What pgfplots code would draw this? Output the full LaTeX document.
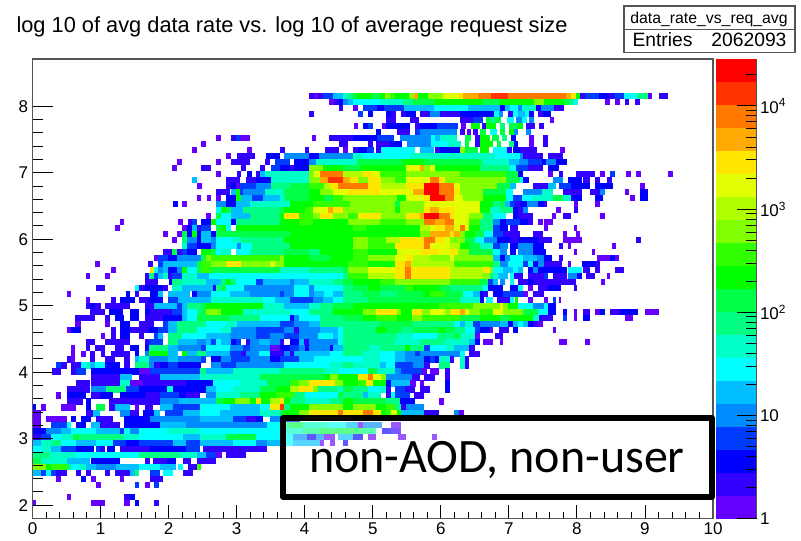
\documentclass[border=0pt]{standalone}
\usepackage{pgfplots}
\usepackage{pgfplotstable}
\usepackage{fontspec}
\setmainfont{Liberation Sans}
\newfontfamily\boxfont{Carlito}
\pgfplotsset{compat=1.18}
\pgfplotsset{colormap={root}{rgb255=(100,0,255) rgb255=(50,0,255) rgb255=(0,0,255) rgb255=(0,60,255) rgb255=(0,140,255) rgb255=(0,190,255) rgb255=(0,255,255) rgb255=(0,255,200) rgb255=(0,255,130) rgb255=(0,255,70) rgb255=(0,255,0) rgb255=(50,255,0) rgb255=(130,255,0) rgb255=(175,255,0) rgb255=(225,255,0) rgb255=(255,230,0) rgb255=(255,170,0) rgb255=(255,120,0) rgb255=(255,50,0) rgb255=(255,0,0)}}
\definecolor{frame}{RGB}{85,85,85}
\pgfplotstableread{
a b y c
4.06 4.13 8.15 1
4.13 4.20 8.15 0
4.20 4.27 8.15 1
4.27 4.41 8.15 3
4.41 4.56 8.15 5
4.56 4.63 8.15 7
4.63 4.70 8.15 8
4.70 4.77 8.15 9
4.77 4.99 8.15 10
4.99 5.11 8.15 9
5.11 5.18 8.15 10
5.18 5.25 8.15 12
5.25 5.32 8.15 11
5.32 5.53 8.15 10
5.53 5.60 8.15 12
5.60 5.67 8.15 16
5.67 5.81 8.15 10
5.81 6.03 8.15 12
6.03 6.25 8.15 14
6.25 6.32 8.15 15
6.32 6.54 8.15 16
6.54 6.74 8.15 17
6.74 6.99 8.15 18
6.99 7.84 8.15 17
7.84 7.91 8.15 16
7.91 7.98 8.15 15
7.98 8.05 8.15 10
8.05 8.12 8.15 1
8.12 8.32 8.15 3
8.32 8.47 8.15 2
8.47 8.54 8.15 1
8.54 8.69 8.15 3
8.69 8.89 8.15 6
8.89 9.04 8.15 8
9.04 9.11 8.15 0
9.21 9.34 8.15 1
4.36 4.43 8.06 0
4.43 4.50 8.06 1
4.50 4.57 8.06 2
4.57 4.64 8.06 4
4.64 4.71 8.06 5
4.71 5.10 8.06 6
5.10 5.45 8.06 7
5.45 5.59 8.06 8
5.59 5.90 8.06 9
5.90 6.60 8.06 10
6.60 6.87 8.06 9
6.87 7.37 8.06 10
7.37 7.51 8.06 12
7.51 7.81 8.06 10
7.81 7.88 8.06 9
7.88 7.95 8.06 8
7.95 8.02 8.06 6
8.41 8.48 8.06 0
8.56 8.63 8.06 0
8.70 8.77 8.06 1
8.85 8.92 8.06 1
4.50 4.57 7.97 1
4.71 4.78 7.97 0
4.86 5.06 7.97 3
5.06 5.16 7.97 2
5.16 5.46 7.97 3
5.46 5.90 7.97 5
5.90 6.40 7.97 6
6.40 6.87 7.97 5
6.87 6.94 7.97 2
6.94 7.01 7.97 5
7.01 7.13 7.97 6
7.13 7.20 7.97 4
7.20 7.40 7.97 7
7.40 7.47 7.97 2
7.47 7.67 7.97 4
7.67 7.81 7.97 1
4.06 4.13 7.88 1
4.78 4.85 7.88 3
4.93 5.00 7.88 2
5.20 5.27 7.88 2
5.27 5.34 7.88 1
5.42 5.49 7.88 1
5.49 5.63 7.88 2
5.70 5.84 7.88 1
5.84 5.99 7.88 4
5.99 6.28 7.88 1
6.28 6.78 7.88 2
6.78 6.85 7.88 6
6.85 6.92 7.88 4
6.99 7.06 7.88 1
7.06 7.13 7.88 6
7.13 7.23 7.88 5
7.23 7.30 7.88 6
7.30 7.37 7.88 2
7.43 7.50 7.88 1
7.50 7.62 7.88 2
5.20 5.34 7.79 1
5.54 5.68 7.79 1
6.28 6.48 7.79 1
6.48 6.62 7.79 3
6.67 6.74 7.79 9
6.74 6.81 7.79 8
6.81 6.88 7.79 9
6.97 7.07 7.79 6
7.10 7.20 7.79 4
7.20 7.27 7.79 6
7.30 7.37 7.79 4
7.60 7.67 7.79 0
4.72 4.79 7.70 0
4.86 4.93 7.70 2
4.93 5.00 7.70 3
5.13 5.20 7.70 0
5.20 5.55 7.70 2
5.62 5.69 7.70 1
5.70 5.95 7.70 2
5.95 6.25 7.70 3
6.30 6.37 7.70 0
6.44 6.58 7.70 10
6.60 6.67 7.70 1
6.67 6.81 7.70 10
6.87 6.94 7.70 8
7.00 7.14 7.70 9
7.14 7.21 7.70 10
7.25 7.39 7.70 1
7.45 7.52 7.70 1
5.05 5.12 7.61 2
5.35 5.55 7.61 1
5.62 5.69 7.61 3
5.69 6.24 7.61 4
6.28 6.35 7.61 1
6.38 6.45 7.61 0
6.47 6.54 7.61 1
6.57 6.67 7.61 9
6.72 6.82 7.61 6
6.87 6.94 7.61 9
7.00 7.07 7.61 10
7.07 7.14 7.61 4
7.25 7.32 7.61 4
2.70 2.77 7.52 0
2.92 2.99 7.52 1
2.99 3.05 7.52 3
3.05 3.20 7.52 0
4.10 4.17 7.52 0
4.36 4.71 7.52 1
4.71 5.06 7.52 2
5.06 5.31 7.52 3
5.40 5.85 7.52 4
5.85 5.92 7.52 6
5.92 5.99 7.52 5
5.99 6.24 7.52 7
6.35 6.45 7.52 9
6.50 6.57 7.52 1
6.57 6.72 7.52 10
6.75 6.85 7.52 9
6.90 6.97 7.52 8
7.03 7.10 7.52 2
7.30 7.37 7.52 0
7.50 7.57 7.52 1
2.48 2.55 7.43 0
4.50 4.64 7.43 1
4.93 5.00 7.43 1
5.05 5.25 7.43 1
5.25 5.43 7.43 2
5.50 5.85 7.43 4
5.85 6.10 7.43 6
6.10 6.30 7.43 7
6.35 6.42 7.43 9
6.50 6.57 7.43 1
6.57 6.77 7.43 10
6.82 6.89 7.43 9
7.00 7.07 7.43 8
7.07 7.14 7.43 2
7.30 7.37 7.43 0
7.50 7.57 7.43 1
2.35 2.42 7.34 0
3.15 3.22 7.34 0
3.64 3.71 7.34 1
4.00 4.07 7.34 1
4.30 4.50 7.34 1
4.57 4.64 7.34 0
4.71 4.78 7.34 1
4.78 4.92 7.34 2
4.92 5.02 7.34 3
5.05 5.12 7.34 1
5.12 5.62 7.34 6
5.70 5.90 7.34 5
5.92 5.99 7.34 1
5.99 6.28 7.34 2
6.28 6.35 7.34 12
6.35 6.55 7.34 9
6.57 6.71 7.34 10
6.77 6.97 7.34 6
6.97 7.04 7.34 1
7.06 7.16 7.34 2
7.16 7.41 7.34 1
7.75 7.82 7.34 0
2.85 2.92 7.25 0
3.00 3.27 7.25 1
3.43 3.63 7.25 2
3.70 4.07 7.25 4
4.07 4.21 7.25 2
4.21 4.71 7.25 4
4.71 4.86 7.25 7
4.86 5.55 7.25 6
5.55 6.15 7.25 7
6.15 6.79 7.25 7
6.79 7.16 7.25 6
7.16 7.21 7.25 4
7.21 7.50 7.25 1
7.58 7.80 7.25 1
2.12 2.19 7.16 0
2.70 2.77 7.16 0
2.92 3.20 7.16 1
3.42 3.49 7.16 1
3.56 3.78 7.16 3
3.85 4.07 7.16 2
4.07 4.17 7.16 4
4.17 4.77 7.16 7
4.77 5.45 7.16 9
5.45 5.75 7.16 10
5.75 6.60 7.16 9
6.60 7.00 7.16 7
7.00 7.15 7.16 5
7.15 7.28 7.16 4
7.28 7.48 7.16 3
7.48 7.55 7.16 2
7.55 7.70 7.16 4
7.70 7.85 7.16 2
2.05 2.12 7.07 0
2.48 2.63 7.07 1
3.07 3.14 7.07 1
3.35 3.42 7.07 1
3.50 3.63 7.07 3
3.63 3.78 7.07 2
3.78 3.85 7.07 1
3.85 4.07 7.07 2
4.07 4.27 7.07 12
4.27 4.56 7.07 10
4.56 4.81 7.07 9
4.81 5.49 7.07 10
5.49 5.69 7.07 14
5.69 5.76 7.07 16
5.76 5.84 7.07 12
5.84 5.91 7.07 14
5.91 6.57 7.07 10
6.57 7.01 7.07 8
7.01 7.11 7.07 6
7.11 7.28 7.07 3
7.28 7.50 7.07 1
7.58 7.73 7.07 2
2.70 2.77 6.98 0
3.00 3.07 6.98 1
3.15 3.22 6.98 2
3.28 3.35 6.98 1
3.35 3.42 6.98 5
3.42 4.07 6.98 7
4.07 4.14 6.98 12
4.14 4.22 6.98 14
4.22 4.56 6.98 17
4.56 4.86 6.98 13
4.86 5.00 6.98 15
5.00 5.10 6.98 14
5.10 5.49 6.98 11
5.49 6.28 6.98 12
6.28 6.96 6.98 11
6.96 7.14 6.98 9
7.14 7.21 6.98 2
7.58 7.65 6.98 0
7.73 7.80 6.98 1
7.99 8.26 6.98 1
8.34 8.41 6.98 0
8.49 8.56 6.98 3
8.72 8.79 6.98 0
8.87 8.94 6.98 0
9.34 9.41 6.98 0
2.35 2.42 6.89 5
2.85 3.05 6.89 1
3.13 3.28 6.89 1
3.28 3.50 6.89 2
3.50 4.07 6.89 7
4.07 4.22 6.89 12
4.22 4.34 6.89 16
4.34 4.56 6.89 18
4.56 4.66 6.89 16
4.66 4.78 6.89 15
4.78 4.93 6.89 12
4.93 5.12 6.89 15
5.12 5.32 6.89 12
5.32 5.49 6.89 11
5.49 5.84 6.89 14
5.84 5.98 6.89 17
5.98 6.06 6.89 15
6.06 6.96 6.89 12
6.96 7.16 6.89 9
7.16 7.21 6.89 6
7.21 7.30 6.89 2
7.65 7.80 6.89 4
7.87 8.07 6.89 2
8.09 8.19 6.89 1
8.27 8.34 6.89 1
8.44 8.51 6.89 1
2.42 2.49 6.80 0
2.85 2.92 6.80 1
2.92 2.99 6.80 2
2.99 3.05 6.80 0
3.05 3.28 6.80 3
3.28 3.50 6.80 4
3.50 3.78 6.80 8
3.78 4.07 6.80 9
4.07 4.29 6.80 11
4.29 4.37 6.80 13
4.37 4.49 6.80 15
4.49 4.93 6.80 17
4.93 5.12 6.80 15
5.12 5.49 6.80 13
5.49 5.76 6.80 15
5.76 5.98 6.80 19
5.98 6.20 6.80 17
6.20 6.28 6.80 14
6.28 6.82 6.80 12
6.82 7.01 6.80 9
7.01 7.10 6.80 5
7.36 7.58 6.80 1
7.58 7.70 6.80 5
7.73 7.92 6.80 3
7.92 8.19 6.80 2
8.27 8.53 6.80 2
8.93 9.00 6.80 0
2.70 2.90 6.71 1
2.92 2.99 6.71 5
2.99 3.05 6.71 10
3.05 3.10 6.71 3
3.10 3.42 6.71 4
3.42 3.70 6.71 7
3.70 4.07 6.71 9
4.07 4.22 6.71 10
4.22 4.41 6.71 12
4.41 4.63 6.71 14
4.63 5.10 6.71 15
5.10 5.59 6.71 14
5.59 5.76 6.71 16
5.76 5.98 6.71 19
5.98 6.20 6.71 17
6.20 6.28 6.71 15
6.28 6.62 6.71 12
6.62 6.96 6.71 9
6.96 7.06 6.71 6
7.21 7.48 6.71 4
7.48 7.65 6.71 7
7.80 8.07 6.71 1
8.19 8.26 6.71 1
8.27 8.34 6.71 1
8.34 8.41 6.71 4
8.70 8.77 6.71 0
8.93 9.05 6.71 2
2.41 2.48 6.62 0
2.56 2.63 6.62 0
2.70 2.77 6.62 0
2.85 2.99 6.62 2
2.99 3.07 6.62 10
3.07 3.22 6.62 5
3.22 3.39 6.62 3
3.39 3.63 6.62 5
3.63 3.71 6.62 7
3.71 4.07 6.62 9
4.07 4.29 6.62 10
4.29 4.41 6.62 9
4.41 4.56 6.62 11
4.56 5.35 6.62 12
5.35 5.49 6.62 10
5.49 5.76 6.62 14
5.76 5.84 6.62 15
5.84 6.06 6.62 19
6.06 6.20 6.62 17
6.20 6.33 6.62 14
6.33 6.62 6.62 12
6.62 6.96 6.62 10
6.96 7.06 6.62 6
7.06 7.20 6.62 3
7.20 7.36 6.62 6
7.36 7.65 6.62 7
7.65 7.80 6.62 9
7.80 7.92 6.62 7
7.92 8.07 6.62 2
8.27 8.39 6.62 2
8.78 8.85 6.62 0
8.93 9.05 6.62 2
2.07 2.14 6.53 2
2.20 2.27 6.53 0
2.70 2.85 6.53 4
2.85 2.99 6.53 2
2.99 3.19 6.53 5
3.19 3.78 6.53 7
3.78 4.12 6.53 10
4.12 4.66 6.53 11
4.66 5.32 6.53 12
5.32 5.40 6.53 9
5.40 5.76 6.53 12
5.76 6.57 6.53 14
6.57 6.77 6.53 10
6.77 6.87 6.53 8
6.87 6.94 6.53 9
6.94 7.01 6.53 5
7.01 7.09 6.53 3
7.09 7.16 6.53 1
7.16 7.26 6.53 2
7.26 7.43 6.53 4
7.43 7.51 6.53 2
7.51 7.56 6.53 1
7.95 8.02 6.53 0
8.27 8.34 6.53 0
2.70 2.77 6.44 6
2.77 2.85 6.44 10
2.85 2.92 6.44 9
2.92 3.09 6.44 5
3.09 3.63 6.44 8
3.63 3.70 6.44 9
3.70 4.00 6.44 10
4.00 4.12 6.44 11
4.12 4.34 6.44 14
4.34 4.41 6.44 16
4.41 4.56 6.44 15
4.56 5.32 6.44 12
5.32 5.40 6.44 10
5.40 5.76 6.44 12
5.76 5.84 6.44 15
5.84 5.98 6.44 16
5.98 6.20 6.44 15
6.20 6.57 6.44 14
6.57 6.72 6.44 10
6.72 6.87 6.44 7
6.87 7.06 6.44 8
7.06 7.14 6.44 2
7.14 7.21 6.44 1
7.21 7.28 6.44 4
7.70 7.77 6.44 0
7.95 8.02 6.44 1
2.55 2.63 6.35 0
2.70 2.77 6.35 9
2.77 2.92 6.35 6
2.92 3.19 6.35 5
3.19 3.63 6.35 8
3.63 3.70 6.35 10
3.70 3.92 6.35 15
3.92 4.12 6.35 11
4.12 4.22 6.35 12
4.22 4.41 6.35 15
4.41 4.63 6.35 12
4.63 4.78 6.35 11
4.78 5.12 6.35 15
5.12 5.49 6.35 12
5.49 5.69 6.35 15
5.69 5.76 6.35 16
5.76 5.98 6.35 19
5.98 6.13 6.35 17
6.13 6.20 6.35 15
6.20 6.42 6.35 14
6.42 6.62 6.35 12
6.62 6.77 6.35 8
6.77 6.96 6.35 6
7.06 7.16 6.35 2
7.14 7.36 6.35 1
7.63 7.70 6.35 0
7.80 7.92 6.35 1
8.34 8.41 6.35 0
1.28 1.35 6.26 0
2.14 2.21 6.26 0
2.28 2.35 6.26 1
2.34 2.41 6.26 3
2.48 2.63 6.26 2
2.63 2.70 6.26 10
2.70 2.92 6.26 6
2.92 2.99 6.26 2
2.99 3.63 6.26 8
3.63 3.92 6.26 10
3.92 4.12 6.26 11
4.12 4.63 6.26 10
4.63 5.10 6.26 12
5.10 5.49 6.26 11
5.49 5.76 6.26 12
5.76 5.91 6.26 17
5.91 6.06 6.26 16
6.06 6.20 6.26 17
6.20 6.42 6.26 14
6.42 6.57 6.26 11
6.57 6.77 6.26 8
6.77 6.87 6.26 4
6.87 6.96 6.26 2
6.96 7.16 6.26 3
7.16 7.28 6.26 2
7.28 7.35 6.26 1
7.43 7.50 6.26 0
7.51 7.65 6.26 0
1.21 1.28 6.17 0
2.20 2.27 6.17 0
2.27 2.34 6.17 2
2.34 2.41 6.17 5
2.41 2.48 6.17 1
2.48 2.63 6.17 3
2.70 2.77 6.17 9
2.77 2.85 6.17 10
2.85 2.92 6.17 6
2.99 4.71 6.17 10
4.71 4.90 6.17 11
4.90 5.69 6.17 10
5.69 5.84 6.17 13
5.84 5.91 6.17 14
5.91 6.06 6.17 15
6.06 6.20 6.17 16
6.20 6.28 6.17 14
6.28 6.35 6.17 17
6.35 6.42 6.17 14
6.42 6.57 6.17 10
6.57 6.77 6.17 8
6.77 6.87 6.17 3
6.87 6.99 6.17 2
7.01 7.14 6.17 1
7.51 7.58 6.17 0
7.95 8.00 6.17 0
1.92 1.99 6.08 0
2.12 2.19 6.08 0
2.20 2.27 6.08 9
2.27 2.34 6.08 2
2.34 2.41 6.08 10
2.41 2.48 6.08 2
2.48 2.63 6.08 5
2.63 2.70 6.08 2
2.70 3.78 6.08 9
3.78 5.69 6.08 10
5.69 5.84 6.08 12
5.84 6.13 6.08 16
6.13 6.20 6.08 15
6.20 6.28 6.08 16
6.28 6.35 6.08 12
6.35 6.50 6.08 10
6.50 6.64 6.08 9
6.64 6.77 6.08 6
6.77 6.92 6.08 3
6.92 7.16 6.08 1
7.36 7.50 6.08 1
7.80 7.85 6.08 0
7.99 8.04 6.08 0
2.05 2.12 5.99 0
2.20 2.27 5.99 8
2.27 2.41 5.99 4
2.41 2.48 5.99 2
2.48 2.63 5.99 5
2.63 2.70 5.99 4
2.70 2.92 5.99 6
2.92 3.07 5.99 7
3.07 3.70 5.99 8
3.70 4.71 5.99 10
4.71 4.93 5.99 12
4.93 5.20 5.99 11
5.20 5.40 5.99 13
5.40 5.76 5.99 15
5.76 5.91 5.99 17
5.91 6.06 5.99 15
6.06 6.13 5.99 14
6.13 6.35 5.99 12
6.35 6.50 5.99 9
6.50 6.64 5.99 6
6.64 6.82 5.99 4
6.82 7.01 5.99 2
7.01 7.14 5.99 1
7.14 7.43 5.99 2
7.43 7.63 5.99 1
7.80 8.07 5.99 0
8.87 8.94 5.99 1
2.20 2.27 5.90 7
2.27 2.41 5.90 3
2.41 2.63 5.90 2
2.63 2.70 5.90 4
2.70 3.00 5.90 6
3.00 3.07 5.90 4
3.07 3.22 5.90 6
3.22 3.78 5.90 8
3.78 4.71 5.90 10
4.71 4.93 5.90 12
4.93 5.32 5.90 11
5.32 5.76 5.90 15
5.76 5.84 5.90 17
5.84 6.13 5.90 14
6.13 6.28 5.90 13
6.28 6.42 5.90 10
6.42 6.57 5.90 9
6.57 6.77 5.90 7
6.77 6.87 5.90 3
6.87 6.99 5.90 4
7.01 7.14 5.90 2
7.14 7.36 5.90 4
7.36 7.51 5.90 2
7.73 7.80 5.90 1
7.87 7.92 5.90 0
8.51 8.58 5.90 0
1.92 2.05 5.81 1
2.05 2.12 5.81 9
2.12 2.20 5.81 1
2.20 2.27 5.81 3
2.27 2.41 5.81 2
2.48 2.63 5.81 10
2.63 2.70 5.81 9
2.70 2.77 5.81 6
2.77 2.92 5.81 7
2.99 3.19 5.81 6
3.19 3.70 5.81 8
3.70 4.07 5.81 9
4.07 4.22 5.81 8
4.22 4.71 5.81 10
4.71 4.93 5.81 11
4.93 5.35 5.81 10
5.35 5.69 5.81 14
5.69 5.98 5.81 15
5.98 6.13 5.81 14
6.13 6.25 5.81 15
6.25 6.42 5.81 12
6.42 6.77 5.81 9
6.77 6.87 5.81 6
6.87 6.97 5.81 4
7.01 7.11 5.81 2
7.14 7.36 5.81 4
7.36 7.55 5.81 2
7.95 8.00 5.81 0
8.22 8.27 5.81 0
1.78 1.85 5.72 0
1.85 1.99 5.72 3
1.99 2.12 5.72 2
2.12 2.48 5.72 4
2.48 2.55 5.72 9
2.55 2.63 5.72 12
2.63 3.63 5.72 11
3.63 3.70 5.72 12
3.70 4.07 5.72 10
4.07 4.37 5.72 9
4.37 4.71 5.72 10
4.71 4.93 5.72 11
4.93 5.32 5.72 12
5.32 5.49 5.72 14
5.49 5.59 5.72 15
5.59 5.84 5.72 13
5.84 6.13 5.72 12
6.13 6.20 5.72 14
6.20 6.77 5.72 12
6.77 6.87 5.72 5
6.87 6.94 5.72 2
6.94 7.01 5.72 4
7.01 7.21 5.72 6
7.21 7.41 5.72 5
7.41 7.51 5.72 4
7.51 7.63 5.72 2
7.73 7.80 5.72 1
8.29 8.49 5.72 0
8.49 8.56 5.72 2
8.56 8.62 5.72 0
0.92 0.99 5.63 0
1.70 1.77 5.63 1
1.84 1.92 5.63 3
1.92 2.41 5.63 5
2.41 2.48 5.63 9
2.48 2.63 5.63 11
2.63 2.85 5.63 12
2.85 3.07 5.63 15
3.07 3.49 5.63 12
3.49 3.56 5.63 14
3.56 3.70 5.63 12
3.70 4.63 5.63 10
4.63 4.93 5.63 11
4.93 5.32 5.63 10
5.32 5.47 5.63 15
5.47 5.56 5.63 16
5.56 6.20 5.63 13
6.20 6.77 5.63 11
6.77 6.87 5.63 8
6.87 6.99 5.63 4
6.99 7.21 5.63 6
7.21 7.28 5.63 3
7.28 7.36 5.63 6
7.36 7.43 5.63 2
7.43 7.51 5.63 4
7.51 7.78 5.63 1
7.87 7.92 5.63 0
8.07 8.26 5.63 2
8.27 8.34 5.63 1
1.15 1.22 5.54 0
1.72 1.78 5.54 15
1.78 1.84 5.54 6
1.84 1.92 5.54 4
1.92 1.99 5.54 5
1.99 2.12 5.54 2
2.12 2.20 5.54 4
2.20 2.27 5.54 10
2.27 2.41 5.54 6
2.41 2.48 5.54 9
2.48 2.63 5.54 11
2.63 3.63 5.54 9
3.63 4.07 5.54 7
4.07 4.56 5.54 8
4.56 4.63 5.54 9
4.63 4.93 5.54 12
4.93 5.32 5.54 14
5.32 5.47 5.54 15
5.47 5.56 5.54 17
5.56 6.13 5.54 15
6.13 6.62 5.54 13
6.62 6.72 5.54 15
6.72 6.77 5.54 12
6.77 6.92 5.54 6
6.92 7.06 5.54 5
7.06 7.14 5.54 6
7.14 7.21 5.54 5
7.28 7.36 5.54 2
7.36 7.43 5.54 4
7.43 7.85 5.54 2
7.87 8.07 5.54 6
8.09 8.19 5.54 1
8.27 8.34 5.54 1
8.56 8.69 5.54 1
0.78 0.85 5.45 0
1.07 1.14 5.45 0
1.65 1.71 5.45 1
1.71 1.78 5.45 8
1.78 1.84 5.45 3
1.84 1.92 5.45 5
1.92 1.99 5.45 7
1.99 2.05 5.45 1
2.05 2.20 5.45 3
2.20 2.41 5.45 7
2.41 2.60 5.45 5
2.60 4.56 5.45 6
4.56 4.63 5.45 8
4.63 4.93 5.45 11
4.93 5.32 5.45 13
5.32 5.47 5.45 15
5.47 5.56 5.45 17
5.56 6.13 5.45 15
6.13 6.62 5.45 13
6.62 6.72 5.45 12
6.72 6.77 5.45 8
6.77 6.84 5.45 7
6.84 6.99 5.45 5
7.01 7.08 5.45 6
7.08 7.21 5.45 1
7.28 7.51 5.45 1
7.51 7.58 5.45 3
7.65 7.85 5.45 1
7.87 8.00 5.45 4
8.00 8.07 5.45 2
8.14 8.26 5.45 1
8.44 8.49 5.45 0
1.65 1.84 5.36 1
2.00 2.05 5.36 2
2.05 2.20 5.36 8
2.20 2.55 5.36 7
2.55 2.77 5.36 5
2.77 2.85 5.36 8
2.85 2.92 5.36 10
2.92 2.99 5.36 8
2.99 3.29 5.36 6
3.29 3.39 5.36 3
3.39 3.78 5.36 5
3.78 3.85 5.36 4
3.85 4.07 5.36 5
4.07 4.41 5.36 7
4.41 4.56 5.36 8
4.56 4.71 5.36 9
4.71 5.10 5.36 10
5.10 5.32 5.36 11
5.32 6.13 5.36 12
6.13 6.57 5.36 11
6.57 6.69 5.36 9
6.69 6.77 5.36 3
6.77 6.84 5.36 5
6.87 6.94 5.36 4
7.01 7.08 5.36 6
7.14 7.28 5.36 1
7.28 7.36 5.36 2
7.36 7.99 5.36 1
8.36 8.41 5.36 0
0.94 1.06 5.27 1
1.50 1.57 5.27 6
1.57 1.65 5.27 1
1.65 1.92 5.27 2
1.92 1.99 5.27 1
2.05 2.20 5.27 7
2.20 2.65 5.27 5
2.65 2.70 5.27 2
2.70 2.77 5.27 8
2.77 2.85 5.27 9
2.85 3.11 5.27 6
3.11 3.85 5.27 4
3.85 4.07 5.27 6
4.07 4.14 5.27 4
4.14 4.56 5.27 6
4.56 4.71 5.27 8
4.71 4.93 5.27 9
4.93 5.10 5.27 10
5.10 5.49 5.27 9
5.49 5.59 5.27 11
5.59 5.98 5.27 10
5.98 6.13 5.27 9
6.13 6.62 5.27 8
6.62 6.69 5.27 6
6.69 6.92 5.27 2
7.01 7.14 5.27 2
7.14 7.21 5.27 6
7.28 7.36 5.27 0
7.43 7.58 5.27 1
7.58 7.77 5.27 2
7.95 8.00 5.27 1
0.50 0.57 5.18 0
1.37 1.44 5.18 2
1.50 1.57 5.18 1
1.72 1.84 5.18 2
1.84 1.92 5.18 5
1.99 2.31 5.18 5
2.34 2.41 5.18 2
2.41 2.63 5.18 4
2.63 2.90 5.18 6
2.90 3.19 5.18 5
3.19 3.63 5.18 4
3.63 3.70 5.18 3
3.70 3.85 5.18 4
3.85 4.07 5.18 6
4.07 4.14 5.18 4
4.14 4.29 5.18 5
4.29 4.41 5.18 6
4.41 4.56 5.18 5
4.56 4.86 5.18 8
4.86 5.10 5.18 9
5.10 5.35 5.18 8
5.35 5.74 5.18 9
5.74 5.84 5.18 10
5.84 6.06 5.18 11
6.06 6.33 5.18 9
6.33 6.47 5.18 6
6.47 6.57 5.18 5
6.57 6.62 5.18 2
6.62 6.69 5.18 1
6.77 6.92 5.18 2
6.92 7.21 5.18 3
7.21 7.28 5.18 0
7.36 7.51 5.18 1
0.78 0.85 5.09 0
1.15 1.22 5.09 1
1.28 1.50 5.09 2
1.57 1.71 5.09 1
1.71 1.92 5.09 2
1.99 2.14 5.09 3
2.14 2.63 5.09 5
2.63 3.39 5.09 7
3.39 3.56 5.09 6
3.56 3.78 5.09 5
3.78 4.12 5.09 3
4.12 4.27 5.09 4
4.27 4.41 5.09 5
4.41 4.56 5.09 6
4.56 4.93 5.09 8
4.93 6.28 5.09 9
6.28 6.57 5.09 7
6.57 6.64 5.09 2
6.67 6.77 5.09 6
6.82 7.01 5.09 1
7.01 7.08 5.09 6
7.09 7.14 5.09 10
7.28 7.36 5.09 0
7.51 7.58 5.09 0
7.65 7.70 5.09 3
7.73 7.77 5.09 0
0.78 0.85 5.00 1
0.85 0.92 5.00 2
0.92 1.00 5.00 1
1.07 1.43 5.00 1
1.65 1.78 5.00 1
1.78 2.12 5.00 5
2.12 2.20 5.00 3
2.20 2.27 5.00 5
2.27 2.48 5.00 8
2.48 2.55 5.00 9
2.55 3.39 5.00 10
3.39 3.70 5.00 7
3.70 4.07 5.00 5
4.07 4.22 5.00 7
4.22 4.41 5.00 8
4.41 4.71 5.00 9
4.71 5.98 5.00 10
5.98 6.47 5.00 11
6.47 6.87 5.00 12
6.87 6.92 5.00 14
6.92 6.99 5.00 12
6.99 7.14 5.00 10
7.14 7.36 5.00 6
7.36 7.51 5.00 4
7.51 7.58 5.00 6
7.58 7.70 5.00 2
0.85 1.06 4.91 1
1.13 1.33 4.91 2
1.43 1.57 4.91 2
1.65 1.72 4.91 2
1.72 2.05 4.91 1
2.05 2.20 4.91 3
2.20 2.27 4.91 5
2.27 2.41 4.91 6
2.41 2.48 4.91 8
2.48 2.55 4.91 9
2.55 2.77 4.91 12
2.77 3.09 4.91 10
3.09 3.78 4.91 7
3.78 4.07 4.91 6
4.07 4.41 4.91 8
4.41 4.86 4.91 10
4.86 5.05 4.91 12
5.05 5.35 4.91 15
5.35 5.42 4.91 12
5.42 5.57 4.91 10
5.57 5.72 4.91 15
5.72 5.84 4.91 12
5.84 6.06 4.91 14
6.06 6.13 4.91 12
6.13 6.28 4.91 15
6.28 6.35 4.91 16
6.35 6.42 4.91 14
6.42 6.57 4.91 12
6.57 6.77 4.91 11
6.77 6.92 4.91 14
6.92 7.21 4.91 12
7.21 7.43 4.91 9
7.43 7.58 4.91 6
7.58 7.70 4.91 2
7.80 7.85 4.91 2
7.95 8.00 4.91 0
8.09 8.19 4.91 1
8.27 8.34 4.91 0
8.34 8.41 4.91 2
8.49 8.63 4.91 1
8.63 8.90 4.91 2
9.00 9.20 4.91 0
0.63 0.92 4.82 1
1.07 1.14 4.82 1
1.21 1.35 4.82 2
1.43 1.57 4.82 2
1.65 1.92 4.82 1
1.92 2.20 4.82 2
2.20 2.27 4.82 5
2.27 2.41 4.82 6
2.41 2.90 4.82 9
2.90 3.34 4.82 8
3.34 3.78 4.82 6
3.78 3.85 4.82 2
3.85 3.92 4.82 4
3.92 4.22 4.82 6
4.22 4.56 4.82 8
4.56 4.86 4.82 9
4.86 5.05 4.82 10
5.05 5.35 4.82 11
5.35 5.57 4.82 10
5.57 5.72 4.82 12
5.72 6.28 4.82 11
6.28 6.57 4.82 9
6.57 6.87 4.82 10
6.87 7.01 4.82 9
7.01 7.36 4.82 10
7.36 7.45 4.82 7
7.45 7.65 4.82 1
7.80 7.85 4.82 3
7.95 8.00 4.82 0
8.09 8.19 4.82 2
8.70 8.83 4.82 0
0.63 0.71 4.73 0
1.07 1.14 4.73 0
1.28 1.43 4.73 2
1.57 1.78 4.73 1
1.92 1.99 4.73 3
1.99 2.12 4.73 5
2.12 2.55 4.73 8
2.55 2.85 4.73 6
2.85 3.00 4.73 7
3.00 3.63 4.73 5
3.63 3.85 4.73 3
3.85 4.07 4.73 4
4.07 4.22 4.73 5
4.22 5.10 4.73 8
5.10 5.59 4.73 9
5.59 6.20 4.73 8
6.20 6.28 4.73 6
6.28 6.35 4.73 5
6.35 6.47 4.73 7
6.47 6.57 4.73 3
6.57 6.87 4.73 4
6.87 6.99 4.73 5
6.99 7.06 4.73 2
7.06 7.14 4.73 5
7.14 7.21 4.73 6
7.21 7.28 4.73 5
7.28 7.36 4.73 2
7.36 7.43 4.73 1
7.43 7.50 4.73 0
0.50 0.57 4.64 0
0.57 0.71 4.64 2
1.15 1.22 4.64 1
1.28 1.43 4.64 2
1.43 1.71 4.64 1
1.71 1.84 4.64 2
1.84 1.99 4.64 3
1.99 2.12 4.64 5
2.12 2.41 4.64 8
2.41 2.77 4.64 6
2.77 2.92 4.64 7
2.92 3.29 4.64 4
3.29 3.70 4.64 3
3.70 3.85 4.64 4
3.85 3.92 4.64 1
3.92 4.22 4.64 4
4.22 4.49 4.64 5
4.49 4.56 4.64 6
4.56 5.05 4.64 8
5.05 5.20 4.64 10
5.20 5.42 4.64 9
5.42 5.59 4.64 8
5.59 5.98 4.64 9
5.98 6.06 4.64 10
6.06 6.20 4.64 9
6.20 6.35 4.64 8
6.35 6.50 4.64 6
6.50 6.57 4.64 3
6.57 6.72 4.64 2
6.72 6.77 4.64 0
6.85 7.00 4.64 1
7.06 7.14 4.64 2
7.65 7.70 4.64 0
1.00 1.06 4.55 0
1.15 1.22 4.55 1
1.28 1.43 4.55 2
1.57 1.64 4.55 1
1.78 1.84 4.55 3
1.84 1.92 4.55 5
1.99 2.20 4.55 8
2.20 2.55 4.55 6
2.55 2.90 4.55 5
2.90 3.29 4.55 4
3.29 3.49 4.55 3
3.49 3.70 4.55 4
3.70 3.92 4.55 3
3.92 4.19 4.55 4
4.19 4.41 4.55 6
4.41 4.49 4.55 5
4.49 4.56 4.55 6
4.56 5.35 4.55 8
5.35 5.59 4.55 7
5.59 5.94 4.55 6
5.94 6.20 4.55 8
6.20 6.28 4.55 9
6.28 6.50 4.55 7
6.50 6.57 4.55 0
6.79 6.92 4.55 1
0.78 0.92 4.46 1
1.07 1.43 4.46 1
1.65 1.71 4.46 1
1.71 1.92 4.46 3
1.99 2.14 4.46 8
2.14 2.41 4.46 5
2.41 2.55 4.46 4
2.55 2.63 4.46 5
2.63 2.70 4.46 3
2.70 2.77 4.46 6
2.77 2.92 4.46 5
2.92 2.99 4.46 2
2.99 3.07 4.46 3
3.14 3.19 4.46 1
3.19 3.33 4.46 4
3.33 3.49 4.46 5
3.49 3.63 4.46 4
3.63 3.70 4.46 1
3.78 3.92 4.46 2
3.92 3.99 4.46 5
3.99 4.07 4.46 1
4.07 4.49 4.46 4
4.49 4.56 4.46 6
4.56 5.32 4.46 8
5.32 5.69 4.46 7
5.69 6.06 4.46 8
6.06 6.42 4.46 7
6.42 6.50 4.46 5
6.50 6.57 4.46 2
6.62 6.77 4.46 0
6.87 6.92 4.46 0
7.73 7.85 4.46 0
8.12 8.19 4.46 0
0.57 0.63 4.37 0
0.78 0.85 4.37 1
0.92 1.06 4.37 1
1.21 1.35 4.37 1
1.43 1.57 4.37 2
1.65 1.71 4.37 2
1.71 1.99 4.37 8
1.99 2.14 4.37 5
2.14 2.48 4.37 4
2.48 2.55 4.37 3
2.55 2.90 4.37 6
2.90 3.09 4.37 4
3.09 3.19 4.37 3
3.19 3.49 4.37 4
3.49 3.63 4.37 0
3.63 3.78 4.37 2
3.78 3.92 4.37 3
3.92 4.00 4.37 4
4.00 4.07 4.37 2
4.07 4.37 4.37 4
4.37 4.41 4.37 2
4.41 4.56 4.37 5
4.56 4.95 4.37 8
4.95 5.10 4.37 7
5.10 5.47 4.37 8
5.47 5.54 4.37 10
5.54 5.76 4.37 8
5.76 5.84 4.37 3
5.84 6.08 4.37 6
6.08 6.20 4.37 7
6.20 6.42 4.37 5
6.42 6.50 4.37 1
0.57 0.63 4.28 0
0.71 0.78 4.28 0
0.85 0.92 4.28 1
1.00 1.06 4.28 1
1.15 1.43 4.28 1
1.50 1.57 4.28 2
1.65 1.71 4.28 4
1.71 1.99 4.28 10
1.99 2.14 4.28 5
2.20 2.27 4.28 10
2.27 2.41 4.28 5
2.41 2.55 4.28 8
2.55 2.90 4.28 5
2.90 3.07 4.28 3
3.07 3.14 4.28 1
3.14 3.33 4.28 4
3.33 3.49 4.28 6
3.49 3.70 4.28 1
3.70 3.78 4.28 4
3.78 3.85 4.28 1
3.85 4.37 4.28 5
4.37 4.56 4.28 6
4.56 4.86 4.28 8
4.86 5.10 4.28 7
5.10 5.32 4.28 6
5.32 5.47 4.28 5
5.47 5.62 4.28 4
5.62 5.69 4.28 3
5.69 6.28 4.28 4
6.28 6.35 4.28 6
6.42 6.57 4.28 1
0.50 0.57 4.19 1
0.57 0.63 4.19 0
0.85 0.92 4.19 1
1.07 1.21 4.19 1
1.35 1.43 4.19 1
1.50 1.57 4.19 5
1.57 1.71 4.19 7
1.71 1.99 4.19 4
1.99 2.14 4.19 5
2.14 2.48 4.19 4
2.48 2.55 4.19 3
2.63 2.77 4.19 2
2.77 2.92 4.19 4
2.92 3.19 4.19 3
3.19 3.49 4.19 4
3.49 3.63 4.19 2
3.63 3.92 4.19 3
3.92 4.14 4.19 5
4.14 4.86 4.19 6
4.86 5.10 4.19 7
5.10 5.32 4.19 6
5.32 5.47 4.19 5
5.47 5.76 4.19 4
5.76 5.84 4.19 2
5.84 5.91 4.19 3
5.91 5.98 4.19 2
5.98 6.13 4.19 7
6.13 6.20 4.19 1
6.28 6.35 4.19 7
6.35 6.42 4.19 1
0.35 0.42 4.10 3
0.42 0.50 4.10 1
0.57 0.71 4.10 1
0.71 0.78 4.10 6
0.78 0.85 4.10 7
0.85 0.92 4.10 5
0.92 1.06 4.10 6
1.07 1.28 4.10 2
1.35 1.43 4.10 1
1.50 1.71 4.10 8
1.71 1.78 4.10 4
1.78 1.88 4.10 1
1.88 1.99 4.10 2
1.99 2.14 4.10 3
2.14 2.48 4.10 2
2.63 2.77 4.10 4
2.77 2.99 4.10 3
2.99 3.70 4.10 4
3.70 4.37 4.10 6
4.37 4.56 4.10 7
4.56 4.71 4.10 8
4.71 5.10 4.10 7
5.10 5.20 4.10 5
5.20 5.32 4.10 6
5.32 5.59 4.10 3
5.59 5.76 4.10 4
5.76 5.84 4.10 1
5.98 6.13 4.10 8
6.28 6.35 4.10 7
6.35 6.42 4.10 1
0.29 0.42 4.01 1
0.57 0.64 4.01 1
0.64 0.79 4.01 3
0.86 1.57 4.01 2
1.57 1.72 4.01 0
1.72 2.46 4.01 3
2.46 2.55 4.01 8
2.55 2.95 4.01 5
2.95 3.63 4.01 7
3.63 4.29 4.01 8
4.29 4.50 4.01 7
4.50 4.93 4.01 6
4.93 5.06 4.01 9
5.06 5.32 4.01 7
5.32 5.42 4.01 4
5.42 5.72 4.01 3
5.72 5.79 4.01 0
5.84 5.98 4.01 0
6.06 6.13 4.01 1
0.86 1.28 3.92 1
1.28 1.46 3.92 5
1.57 1.87 3.92 1
1.87 2.46 3.92 5
2.46 3.34 3.92 7
3.34 4.29 3.92 9
4.29 4.37 3.92 10
4.37 4.49 3.92 12
4.49 4.78 3.92 10
4.78 4.93 3.92 15
4.93 5.00 3.92 17
5.00 5.12 3.92 14
5.12 5.20 3.92 12
5.20 5.57 3.92 4
5.57 5.69 3.92 1
5.76 5.91 3.92 1
6.06 6.13 3.92 1
0.64 0.84 3.83 1
0.86 1.28 3.83 1
1.28 1.43 3.83 7
1.43 1.62 3.83 0
1.62 2.26 3.83 1
2.26 2.65 3.83 2
2.65 3.05 3.83 6
3.05 3.44 3.83 7
3.44 3.78 3.83 9
3.78 3.92 3.83 11
3.92 4.07 3.83 12
4.07 4.44 3.83 15
4.44 4.56 3.83 12
4.56 4.78 3.83 10
4.78 4.90 3.83 11
4.90 5.00 3.83 15
5.00 5.20 3.83 10
5.20 5.27 3.83 2
5.27 5.54 3.83 5
5.54 5.63 3.83 0
5.69 5.76 3.83 0
6.06 6.13 3.83 2
0.50 0.84 3.74 1
0.86 1.08 3.74 4
1.08 1.38 3.74 8
1.38 1.57 3.74 3
1.57 1.97 3.74 2
1.97 2.06 3.74 7
2.06 2.55 3.74 2
2.55 2.70 3.74 5
2.70 2.95 3.74 6
2.95 3.34 3.74 7
3.34 3.58 3.74 9
3.58 3.78 3.74 10
3.78 3.92 3.74 13
3.92 4.12 3.74 15
4.12 4.19 3.74 12
4.19 4.49 3.74 8
4.49 4.56 3.74 7
4.56 4.71 3.74 9
4.71 4.93 3.74 8
4.93 5.10 3.74 6
5.10 5.20 3.74 7
5.20 5.27 3.74 1
5.32 5.47 3.74 3
5.47 5.62 3.74 1
5.69 5.84 3.74 1
6.06 6.13 3.74 2
0.35 0.42 3.65 0
0.50 0.79 3.65 2
0.86 0.99 3.65 1
0.99 1.18 3.65 2
1.28 1.67 3.65 2
1.67 1.87 3.65 1
1.87 2.16 3.65 3
2.16 2.26 3.65 2
2.26 2.46 3.65 1
2.55 2.70 3.65 4
2.70 3.05 3.65 7
3.05 3.34 3.65 8
3.34 3.58 3.65 10
3.58 3.85 3.65 11
3.85 4.00 3.65 8
4.00 4.49 3.65 6
4.49 4.56 3.65 9
4.56 4.86 3.65 8
4.86 4.93 3.65 5
4.93 5.12 3.65 7
5.20 5.27 3.65 1
5.27 5.32 3.65 6
5.32 5.54 3.65 3
5.61 5.76 3.65 1
0.50 0.74 3.56 1
0.79 0.86 3.56 2
1.13 1.87 3.56 1
1.87 2.16 3.56 4
2.16 2.70 3.56 5
2.70 2.80 3.56 9
2.80 2.97 3.56 10
2.97 3.19 3.56 12
3.19 3.29 3.56 10
3.29 3.36 3.56 15
3.36 3.49 3.56 10
3.49 3.63 3.56 13
3.63 3.70 3.56 15
3.70 3.78 3.56 10
3.78 4.00 3.56 8
4.00 4.37 3.56 7
4.37 4.56 3.56 8
4.56 4.71 3.56 10
4.71 5.20 3.56 9
5.20 5.40 3.56 8
5.40 5.62 3.56 2
5.98 6.05 3.56 0
0.00 0.05 3.47 2
0.13 0.20 3.47 0
0.42 0.64 3.47 0
0.79 0.86 3.47 2
0.94 1.06 3.47 9
1.13 1.21 3.47 1
1.21 1.43 3.47 5
1.50 1.57 3.47 0
1.65 1.77 3.47 1
1.87 2.06 3.47 5
2.06 2.46 3.47 3
2.46 2.90 3.47 6
2.90 3.34 3.47 5
3.34 3.49 3.47 6
3.49 3.63 3.47 15
3.63 3.70 3.47 18
3.70 3.78 3.47 8
3.78 4.07 3.47 10
4.07 4.56 3.47 12
4.56 4.71 3.47 10
4.71 5.05 3.47 12
5.05 5.20 3.47 10
5.20 5.32 3.47 11
5.32 5.42 3.47 8
5.42 5.49 3.47 1
5.49 5.76 3.47 4
0.00 0.13 3.38 0
0.79 0.89 3.38 1
0.89 0.99 3.38 5
1.28 1.43 3.38 4
1.43 1.57 3.38 1
1.62 1.79 3.38 2
1.79 1.87 3.38 5
1.94 2.21 3.38 3
2.21 2.46 3.38 5
2.46 2.75 3.38 6
2.75 3.34 3.38 5
3.34 3.63 3.38 7
3.63 3.70 3.38 9
3.70 3.92 3.38 10
3.92 4.07 3.38 12
4.07 4.49 3.38 15
4.49 4.56 3.38 17
4.56 4.86 3.38 15
4.86 5.00 3.38 17
5.00 5.12 3.38 15
5.12 5.20 3.38 10
5.20 5.27 3.38 11
5.27 5.35 3.38 14
5.35 5.42 3.38 10
5.42 5.76 3.38 5
5.76 5.98 3.38 1
6.20 6.27 3.38 4
6.27 6.34 3.38 0
0.00 0.13 3.29 0
0.20 0.50 3.29 0
0.57 0.64 3.29 2
0.72 0.86 3.29 2
0.94 1.18 3.29 1
1.35 1.72 3.29 2
1.72 2.46 3.29 4
2.46 2.95 3.29 5
2.95 3.14 3.29 3
3.14 3.29 3.29 1
3.29 3.39 3.29 2
3.49 3.68 3.29 4
3.68 3.93 3.29 2
0.00 0.13 3.20 0
0.27 0.50 3.20 3
0.50 0.57 3.20 6
0.64 0.79 3.20 2
0.86 0.99 3.20 5
0.99 1.28 3.20 1
1.35 1.87 3.20 2
1.87 2.26 3.20 5
2.26 3.44 3.20 4
3.44 3.68 3.20 6
3.68 3.73 3.20 5
3.73 3.78 3.20 8
3.78 3.98 3.20 9
3.98 4.37 3.20 7
4.37 4.61 3.20 6
4.61 4.78 3.20 5
4.78 4.85 3.20 0
4.85 5.13 3.20 4
5.27 5.42 3.20 0
0.00 0.20 3.11 2
0.20 0.42 3.11 4
0.42 0.57 3.11 5
0.57 0.94 3.11 6
0.94 1.28 3.11 5
1.28 1.35 3.11 3
1.35 1.43 3.11 6
1.43 1.57 3.11 4
1.57 1.97 3.11 6
1.97 2.46 3.11 7
2.46 3.68 3.11 6
3.68 3.98 3.11 7
3.98 4.22 3.11 8
4.22 4.81 3.11 9
4.81 5.05 3.11 8
5.13 5.27 3.11 2
5.27 5.42 3.11 1
0.00 0.13 3.02 1
0.13 0.27 3.02 3
0.27 0.42 3.02 6
0.42 0.59 3.02 7
0.59 0.69 3.02 9
0.69 1.33 3.02 8
1.33 1.57 3.02 7
1.57 2.21 3.02 6
2.21 2.46 3.02 5
2.46 2.85 3.02 7
2.85 3.29 3.02 9
3.29 3.83 3.02 6
3.83 4.03 3.02 4
4.03 4.17 3.02 2
4.17 4.29 3.02 4
4.29 4.44 3.02 0
4.49 4.71 3.02 5
4.71 4.85 3.02 2
4.93 5.05 3.02 0
5.37 5.49 3.02 0
5.87 5.94 3.02 0
0.00 0.13 2.93 5
0.13 0.27 2.93 7
0.27 0.42 2.93 8
0.42 0.64 2.93 6
0.64 0.94 2.93 5
0.94 1.18 2.93 6
1.18 1.38 2.93 3
1.38 1.57 2.93 2
1.57 2.06 2.93 3
2.06 2.26 2.93 5
2.26 2.46 2.93 3
2.46 2.95 2.93 5
2.95 3.29 2.93 6
3.29 3.44 2.93 4
3.44 3.68 2.93 5
3.68 3.83 2.93 6
3.83 4.22 2.93 5
4.22 4.29 2.93 0
4.37 4.44 2.93 0
4.56 4.63 2.93 2
0.00 0.13 2.84 6
0.13 0.27 2.84 7
0.27 0.42 2.84 5
0.42 0.64 2.84 3
0.64 0.91 2.84 2
0.94 0.99 2.84 3
0.99 1.06 2.84 1
1.09 1.21 2.84 2
1.28 1.72 2.84 1
1.72 2.26 2.84 2
2.26 2.46 2.84 3
2.50 3.44 2.84 1
4.47 4.54 2.75 0
0.00 0.25 2.75 8
0.25 0.64 2.75 7
0.64 1.57 2.75 6
1.57 2.16 2.75 8
2.16 2.41 2.75 7
2.41 2.55 2.75 5
2.55 2.70 2.75 3
2.70 2.78 2.75 0
2.85 3.14 2.75 1
0.00 0.13 2.66 9
0.13 0.50 2.66 7
0.50 0.84 2.66 5
0.86 1.28 2.66 2
1.65 1.72 2.66 1
1.77 1.97 2.66 1
1.97 2.11 2.66 2
2.21 2.33 2.66 1
2.41 2.70 2.66 1
0.00 0.20 2.57 12
0.20 0.27 2.57 10
0.27 0.50 2.57 11
0.50 0.57 2.57 8
0.57 0.69 2.57 6
0.69 0.79 2.57 7
0.79 0.94 2.57 5
0.94 1.23 2.57 4
1.23 1.57 2.57 5
1.57 1.87 2.57 6
1.87 2.11 2.57 5
2.14 2.21 2.57 6
2.29 2.41 2.57 1
2.41 2.48 2.57 11
0.00 0.13 2.48 5
0.13 0.20 2.48 3
0.20 0.27 2.48 6
0.27 0.35 2.48 3
0.35 0.50 2.48 1
0.64 0.71 2.48 1
0.79 0.86 2.48 1
1.07 1.14 2.48 1
1.21 1.43 2.48 1
1.43 1.50 2.48 5
1.50 1.57 2.48 8
1.72 1.87 2.48 3
1.92 2.06 2.48 6
2.21 2.36 2.48 1
0.35 0.42 2.39 0
0.72 0.79 2.39 2
0.86 0.93 2.39 0
1.28 1.35 2.39 0
1.72 1.92 2.39 1
0.94 1.01 2.30 0
1.50 1.57 2.30 3
1.65 1.72 2.30 0
1.79 1.86 2.30 3
0.50 0.57 2.12 0
1.35 1.43 2.12 1
1.43 1.50 2.12 2
0.00 0.05 2.03 0
0.86 1.06 2.03 0
1.35 1.43 2.03 0
1.50 1.57 2.03 2
1.79 1.86 2.03 1
}\cells
\pgfplotstableread{
a b y c
0 1 0.111 0
0 1 0.334 1
0 1 0.557 2
0 1 0.780 3
0 1 1.003 4
0 1 1.225 5
0 1 1.448 6
0 1 1.671 7
0 1 1.894 8
0 1 2.116 9
0 1 2.339 10
0 1 2.562 11
0 1 2.785 12
0 1 3.008 13
0 1 3.230 14
0 1 3.453 15
0 1 3.676 16
0 1 3.899 17
0 1 4.122 18
0 1 4.344 19
}\bar
\begin{document}
\begin{tikzpicture}[x=1bp,y=1bp]
\path[use as bounding box] (0,0) rectangle (801,541);
\begin{axis}[
  at={(32.5bp,22.5bp)},anchor=south west,scale only axis,
  width=680.5bp,height=459.5bp,
  xmin=0,xmax=10,ymin=1.8,ymax=8.71,
  point meta min=0,point meta max=19,
  axis line style={frame,line width=1.4bp},
  tick align=inside,
  xtick={0,...,10},ytick={2,...,8},
  minor x tick num=4,minor y tick num=4,
  tick style={black,line width=0.9bp},
  xtick pos=bottom,ytick pos=left,
  x tick style={/pgfplots/major tick length=13bp,/pgfplots/minor tick length=6.5bp},
  y tick style={/pgfplots/major tick length=20bp,/pgfplots/minor tick length=10bp},
  ticklabel style={font=\fontsize{17bp}{19bp}\selectfont,/pgf/number format/assume math mode=true},
  xticklabel style={yshift=-1bp},
  yticklabel style={xshift=-1bp},
  axis on top,
]
\addplot[point meta=\thisrow{c},
  quiver={u=\thisrow{b}-\thisrow{a},v=0,colored=mapped color,
  every arrow/.append style={-,line width=6.15bp}}]
  table[x=a,y=y] {\cells};
\end{axis}
\begin{axis}[
  at={(716bp,22.5bp)},anchor=south west,scale only axis,
  width=40.5bp,height=459.5bp,
  xmin=0,xmax=1,ymin=0,ymax=4.455,
  point meta min=0,point meta max=19,
  axis x line=none,axis y line*=right,
  axis line style={frame,line width=1bp,-},
  tick align=inside,
  ytick={0,1,2,3,4},yticklabels={1,10,10\textsuperscript{2},10\textsuperscript{3},10\textsuperscript{4}},
  minor ytick={0.301,0.477,0.602,0.699,0.778,0.845,0.903,0.954,1.301,1.477,1.602,1.699,1.778,1.845,1.903,1.954,2.301,2.477,2.602,2.699,2.778,2.845,2.903,2.954,3.301,3.477,3.602,3.699,3.778,3.845,3.903,3.954,4.301},
  major tick length=20bp,minor tick length=11bp,
  tick style={black,line width=0.9bp},
  ticklabel style={font=\fontsize{17bp}{19bp}\selectfont},
  axis on top,
]
\addplot[point meta=\thisrow{c},
  quiver={u=\thisrow{b}-\thisrow{a},v=0,colored=mapped color,
  every arrow/.append style={-,line width=23.5bp}}]
  table[x=a,y=y] {\bar};
\end{axis}
\fill[white,opacity=0.35] (283,44) rectangle (712,123);
\draw[black,line width=5.5bp,line join=round] (283,44) rectangle (712,123);
\node[anchor=base,font=\boxfont\fontsize{48bp}{50bp}\selectfont] at (497,68) {non-AOD, non-user};
\node[anchor=base west,font=\fontsize{21.8bp}{24bp}\selectfont] at (13,508) {log 10 of avg data rate vs. log 10 of average request size};
\fill[white] (624,488) rectangle (795,535);
\draw[frame,line width=1.2bp] (624,488.3) rectangle (795,535);
\draw[frame,line width=1.2bp] (624,511.7) -- (795,511.7);
\node[anchor=base,font=\fontsize{15.8bp}{17bp}\selectfont] at (709,517) {data\_rate\_vs\_req\_avg};
\node[anchor=base west,font=\fontsize{19.3bp}{21bp}\selectfont] at (629,494) {Entries};
\node[anchor=base east,font=\fontsize{19.3bp}{21bp}\selectfont] at (790,494) {2062093};
\end{tikzpicture}
\end{document}
